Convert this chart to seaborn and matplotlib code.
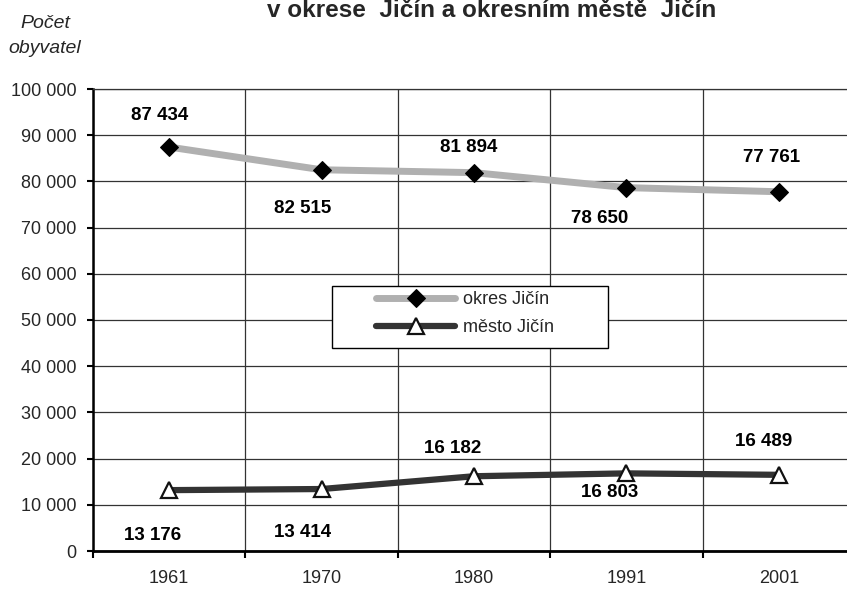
import matplotlib
matplotlib.use("Agg")
import matplotlib.pyplot as plt
from matplotlib.patches import Rectangle
from matplotlib.ticker import FuncFormatter, FixedLocator
import seaborn as sns
import pandas as pd

# ---- data ----
years = ["1961", "1970", "1980", "1991", "2001"]
okres = [87434, 82515, 81894, 78650, 77761]
mesto = [13176, 13414, 16182, 16803, 16489]
series_names = ["okres Jičín", "město Jičín"]
title_text = "v okrese  Jičín a okresním městě  Jičín"
ylabel_lines = ["Počet", "obyvatel"]
yticks = [0, 10000, 20000, 30000, 40000, 50000, 60000, 70000, 80000, 90000, 100000]

# label offsets (pixels) relative to points -- layout only
okres_off = [(-10, 32), (-19, -39), (-5, 25), (-27, -31), (-7, 34)]
mesto_off = [(-17, -45), (-19, -43), (-21, 28), (-17, -19), (-15, 33)]

sns.set_theme(style="white")
plt.rcParams["font.family"] = ["Liberation Sans", "DejaVu Sans"]

pos = list(range(len(years)))
df = pd.DataFrame({
    "pos": pos * 2,
    "value": okres + mesto,
    "series": [series_names[0]] * len(years) + [series_names[1]] * len(years),
})

W, H = 847, 590
fig = plt.figure(figsize=(W / 100, H / 100), dpi=100)
ax = fig.add_axes([93 / W, 39 / H, 762 / W, 462 / H])

d_ok = df[df["series"] == series_names[0]]
d_me = df[df["series"] == series_names[1]]
sns.lineplot(data=d_ok, x="pos", y="value", ax=ax, color="#b0b0b0", lw=5,
             marker="D", markersize=9, markerfacecolor="black",
             markeredgecolor="black", sort=False, label=series_names[0], zorder=3)
sns.lineplot(data=d_me, x="pos", y="value", ax=ax, color="#333333", lw=4.5,
             marker="^", markersize=11, markerfacecolor="white",
             markeredgecolor="#111111", markeredgewidth=1.6, sort=False,
             label=series_names[1], zorder=3)

ax.set_xlim(-0.5, len(years) - 0.5)
ax.set_ylim(0, 100000)
ax.set_xlabel("")
ax.set_ylabel("")

# y axis
ax.yaxis.set_major_locator(FixedLocator(yticks))
ax.yaxis.set_major_formatter(FuncFormatter(lambda v, p: f"{int(v):,}".replace(",", " ")))
ax.tick_params(axis="y", which="major", direction="out", length=4, width=1.5,
               color="black", labelsize=13, pad=8, left=True)
# x axis
ax.set_xticks(pos)
ax.set_xticklabels(years)
ax.set_xticks([p - 0.5 for p in pos] + [len(years) - 0.5], minor=True)
ax.tick_params(axis="x", which="major", length=0, labelsize=13, pad=14)
ax.tick_params(axis="x", which="minor", direction="out", length=5, width=1.5,
               color="black", bottom=True)

ax.grid(False)
ax.yaxis.grid(True, which="major", color="#333333", lw=0.9)
ax.xaxis.grid(True, which="minor", color="#333333", lw=0.9)
ax.set_axisbelow(True)

ax.spines["right"].set_visible(False)
ax.spines["top"].set_color("#333333")
ax.spines["top"].set_linewidth(0.9)
ax.spines["left"].set_color("black")
ax.spines["left"].set_linewidth(1.8)
ax.spines["bottom"].set_color("black")
ax.spines["bottom"].set_linewidth(2.0)

# data labels
for i, v in enumerate(okres):
    ax.annotate(f"{v:,}".replace(",", " "), (pos[i], v), xytext=okres_off[i],
                textcoords="offset pixels", ha="center", va="center",
                fontsize=13.5, fontweight="bold", color="black")
for i, v in enumerate(mesto):
    ax.annotate(f"{v:,}".replace(",", " "), (pos[i], v), xytext=mesto_off[i],
                textcoords="offset pixels", ha="center", va="center",
                fontsize=13.5, fontweight="bold", color="black")

# legend
handles, labels = ax.get_legend_handles_labels()
if ax.get_legend() is not None:
    ax.get_legend().remove()
rect = Rectangle((332 / W, 1 - 348 / H), 276 / W, 62 / H, transform=fig.transFigure,
                 facecolor="white", edgecolor="black", lw=1.0, zorder=5)
fig.patches.append(rect)
leg = fig.legend(handles, labels, loc="upper left",
                 bbox_to_anchor=(376 / W, 1 - 291 / H), bbox_transform=fig.transFigure,
                 frameon=False, borderpad=0, borderaxespad=0, handlelength=4.4,
                 handletextpad=0.4, labelspacing=0.6, fontsize=13, numpoints=1)
leg.set_zorder(6)

# title and y label
fig.text(492 / W, 1 - 17 / H, title_text, ha="center", va="baseline",
         fontsize=17.5, fontweight="bold")
fig.text(45 / W, 1 - 28 / H, ylabel_lines[0], ha="center", va="baseline",
         fontsize=14, style="italic")
fig.text(45 / W, 1 - 53 / H, ylabel_lines[1], ha="center", va="baseline",
         fontsize=14, style="italic")

fig.savefig("out.png", dpi=100)
